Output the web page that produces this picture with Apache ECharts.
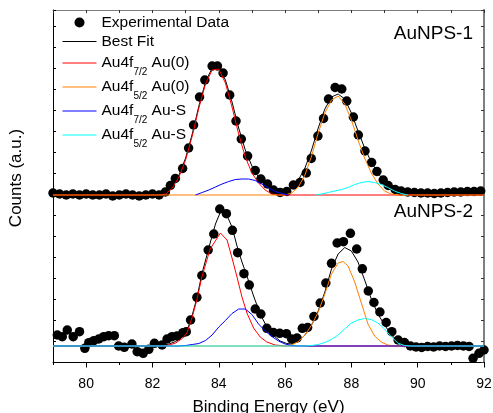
<!DOCTYPE html>
<html><head><meta charset="utf-8">
<script src="https://cdn.jsdelivr.net/npm/echarts@6/dist/echarts.min.js"></script>
<style>html,body{margin:0;padding:0;background:#fff}#c{width:493px;height:413px}</style>
</head><body><div id="c"></div>
<script>
// Binding energy axis (eV)
const energyMin = 79, energyMax = 92;
const xTickLabels = [80, 82, 84, 86, 88, 90, 92];
const countsMin = 0, countsMax = 352, countsTickStep = 21;

const legendNames = ['Experimental Data', 'Best Fit', 'Au4f7/2 Au(0)', 'Au4f5/2 Au(0)', 'Au4f7/2 Au-S', 'Au4f5/2 Au-S'];
const panelLabels = ['AuNPS-1', 'AuNPS-2'];

// ---- AuNPS-1 (upper, offset trace) ----
const topExperimental = [
[79.0,169],[79.2,168],[79.4,167],[79.6,168],[79.8,167],[80.0,168],[80.2,167],[80.4,167],[80.6,168],[80.8,166],[81.0,167],[81.2,168],[81.4,167],[81.6,166],[81.8,167],[82.0,168],[82.2,167],
[82.39,170],[82.54,176.5],[82.69,183.5],[82.91,193.5],[83.09,214],[83.24,237],[83.42,265],[83.58,282],[83.80,296],[83.96,296],[84.13,289],[84.33,267],[84.52,241],[84.68,223],[84.87,206],[85.10,191.5],[85.27,183],[85.47,178],[85.65,172],[85.85,169.5],[86.05,170.5],[86.25,177],[86.45,179.5],[86.64,189],[86.79,203.5],[86.99,226],[87.16,243.5],[87.31,263],[87.51,274.5],[87.71,273],[87.86,261],[88.06,245],[88.21,227],[88.41,211],[88.61,199.5],[88.77,190.5],[88.96,182],[89.11,176.5],[89.32,172.5],
[89.5,171],[89.7,170],[89.9,169.5],[90.1,169],[90.3,169],[90.5,168.5],[90.7,169],[90.9,169.5],[91.1,170],[91.3,170],[91.5,170.5],[91.7,170.5],[91.9,171]
];
const topBestFit = [[79,167],[82.2,167],[82.4,169],[82.6,176],[82.8,187],[83.0,204],[83.2,228],[83.4,256],[83.6,280],[83.8,294],[84.0,295],[84.2,282],[84.4,260],[84.6,234],[84.8,212],[85.0,196],[85.2,185],[85.4,178],[85.6,173],[85.8,170],[86.0,171],[86.2,175],[86.4,182],[86.6,194],[86.8,212],[87.0,234],[87.2,253],[87.4,265],[87.6,268],[87.8,263],[88.0,249],[88.2,231],[88.4,214],[88.6,200],[88.8,189],[89.0,180],[89.2,174],[89.4,170],[89.6,168],[90.0,167],[92,167]];
const topAu0_72 = [[79,167],[82.2,167],[82.4,168],[82.6,174],[82.8,185],[83.0,202],[83.2,226],[83.4,254],[83.6,278],[83.8,292],[84.0,293],[84.2,279],[84.4,255],[84.6,228],[84.8,205],[85.0,189],[85.2,179],[85.4,172],[85.6,168],[85.8,167],[92,167]];
const topAu0_52 = [[79,167],[86.0,167],[86.2,169],[86.4,175],[86.6,187],[86.8,206],[87.0,229],[87.2,249],[87.4,262],[87.6,266],[87.8,258],[88.0,242],[88.2,222],[88.4,204],[88.6,189],[88.8,178],[89.0,171],[89.2,168],[89.4,167],[92,167]];
const topAuS_72 = [[83.3,167],[83.5,169.5],[83.7,172],[83.9,175],[84.1,178],[84.3,180.5],[84.5,182.5],[84.7,183],[84.9,183],[85.1,181.5],[85.3,178],[85.5,174],[85.7,170.5],[85.9,168.5],[86.1,167]];
const topAuS_52 = [[86.9,167],[87.1,168],[87.3,169.5],[87.5,171],[87.7,172.5],[87.9,174.5],[88.1,177.5],[88.3,179.5],[88.5,180.5],[88.7,179.5],[88.9,177.5],[89.1,174.5],[89.3,171],[89.5,168.5],[89.7,167]];

// ---- AuNPS-2 (lower trace) ----
const bottomExperimental = [
[79.13,27],[79.28,25.3],[79.43,32],[79.61,25.3],[79.80,30.3],[79.96,13.7],[80.08,19.3],[80.23,21.3],[80.38,23],[80.53,25.3],[80.68,26.3],[80.85,26.3],[80.98,16],[81.15,14.7],[81.38,18],[81.54,10.3],[81.72,8.7],[81.89,12.7],[82.06,18.7],[82.29,17],[82.44,23],[82.59,25.3],[82.74,26],[82.92,29.3],[83.02,30.3],[83.15,42],[83.34,64.7],[83.49,86.5],[83.68,112],[83.85,128],[84.03,153],[84.23,148.3],[84.41,131.7],[84.57,109.3],[84.76,88.3],[84.92,77],[85.10,53],[85.27,48],[85.45,33.7],[85.65,29.5],[85.84,28.7],[86.04,28.3],[86.20,23],[86.36,24],[86.52,33.7],[86.68,34.5],[86.87,45.5],[87.06,59],[87.23,79],[87.40,98.7],[87.57,119],[87.76,120.3],[87.97,128.7],[88.16,113],[88.33,93.2],[88.51,71],[88.68,59.5],[88.86,50],[89.05,39.5],[89.22,30.3],[89.41,22],[89.60,19.5],[89.78,16],[89.95,15],[90.12,14.5],[90.30,15.5],[90.48,15],[90.66,16],[90.84,15.5],[91.02,16],[91.20,16.5],[91.38,16],[91.55,15.5],[91.67,3.7],[91.85,8.7],[92.0,12]
];
const bottomBestFit = [[79,16],[82.0,16],[82.3,16.5],[82.5,18],[82.7,20.5],[82.9,25],[83.04,31],[83.2,47],[83.34,64],[83.49,88],[83.74,119],[83.9,138],[84.05,150],[84.2,150],[84.4,135],[84.55,116],[84.7,100],[84.85,86],[85.05,66],[85.25,48],[85.45,35],[85.65,26.5],[85.85,21],[86.05,18.5],[86.2,18],[86.4,20.5],[86.6,27],[86.8,37],[87.0,51],[87.2,70],[87.4,93],[87.6,108],[87.8,114.5],[88.0,111],[88.2,100],[88.4,82],[88.6,63],[88.8,48],[89.0,37],[89.2,27.5],[89.4,20.5],[89.6,17],[89.8,16],[92,16]];
const bottomAu0_72 = [[79,16],[82.3,16],[82.5,17],[82.7,19],[82.9,23.5],[83.04,29],[83.2,45],[83.34,62],[83.49,85],[83.74,113],[84.05,129],[84.25,122],[84.4,104],[84.55,85],[84.7,65],[84.85,49],[85.05,34],[85.25,25],[85.45,20],[85.7,17],[86.0,16],[92,16]];
const bottomAu0_52 = [[79,16],[86.0,16],[86.2,17],[86.4,20.5],[86.6,27],[86.8,37],[87.0,50],[87.2,68],[87.4,88],[87.6,99],[87.75,100.5],[87.9,96],[88.1,80],[88.3,59],[88.5,38],[88.7,26],[88.9,20],[89.1,17],[89.3,16],[92,16]];
const bottomAuS_72 = [[79,16],[82.8,16],[83.0,16.5],[83.2,17.5],[83.4,18.5],[83.6,21.5],[83.8,27],[84.0,35],[84.2,41.5],[84.4,48.5],[84.6,53],[84.8,53],[85.0,47.5],[85.2,38],[85.4,31],[85.6,25.5],[85.8,21],[86.0,18],[86.2,16.5],[86.4,16],[92,16]];
const bottomAuS_52 = [[79,16],[86.6,16],[86.8,16.5],[87.0,17.5],[87.2,19.5],[87.4,22.5],[87.6,27],[87.8,33],[88.0,39],[88.2,42],[88.4,43.5],[88.6,42.5],[88.8,39],[89.0,33],[89.2,25.5],[89.4,19],[89.6,16.5],[89.8,16],[92,16]];

const FONT = '"Liberation Sans", Arial, Helvetica, sans-serif';
const colors = {fit:'#000000', au0_72:'#ff0000', au0_52:'#ff8000', aus_72:'#0000ff', aus_52:'#00ffff'};

function lineSeries(name, data, color) {
  return {name, type:'line', data, symbol:'none', showSymbol:false, smooth:false,
    lineStyle:{color, width:1, opacity:1}, itemStyle:{color}, silent:true, z:3};
}
function scatterSeries(data) {
  return {name:legendNames[0], type:'scatter', data, symbol:'circle', symbolSize:9.5,
    itemStyle:{color:'#000', opacity:1, borderWidth:0}, silent:true, z:2};
}
function legendFormatter(name) {
  const m = name.match(/^Au4f(\d\/\d) (.*)$/);
  return m ? '{n|Au4f}{s|' + m[1] + '}{n| ' + m[2] + '}' : name;
}

const chart = echarts.init(document.getElementById('c'), null, {renderer:'canvas'});
chart.setOption({
  animation:false,
  backgroundColor:'#fff',
  grid:{left:53, right:9, top:10, bottom:51, containLabel:false, outerBoundsMode:'none'},
  legend:{
    orient:'vertical', left:62, top:11, padding:0, itemGap:-4, itemWidth:34, itemHeight:10,
    selectedMode:false,
    lineStyle:{width:1},
    data:legendNames.map(n => n === legendNames[0]
      ? {name:n, icon:'circle', itemStyle:{color:'#000', opacity:1}}
      : {name:n, itemStyle:{opacity:0}, lineStyle:{width:1}}),
    formatter:legendFormatter,
    textStyle:{fontFamily:FONT, fontSize:15.5, color:'#000', lineHeight:23,
      rich:{
        n:{fontFamily:FONT, fontSize:15.5, color:'#000', lineHeight:28},
        s:{fontFamily:FONT, fontSize:10, color:'#000', verticalAlign:'bottom'}
      }}
  },
  xAxis:[
    {type:'value', position:'bottom', min:energyMin, max:energyMax, interval:1,
      name:'Binding Energy (eV)', nameLocation:'middle', nameGap:37,
      nameTextStyle:{fontFamily:FONT, fontSize:17, color:'#000'},
      axisLine:{show:true, onZero:false, lineStyle:{color:'#000', width:1}},
      axisTick:{show:true, inside:false, length:3, lineStyle:{color:'#000', width:1}},
      axisLabel:{show:true, customValues:xTickLabels, formatter:v => (v % 2 === 0 ? String(v) : ''),
        fontFamily:FONT, fontSize:14, color:'#000', margin:15},
      splitLine:{show:false}},
    {type:'value', position:'bottom', min:energyMin, max:energyMax, interval:1,
      axisLine:{show:false, onZero:false},
      axisTick:{show:true, inside:false, length:5.5, customValues:xTickLabels, lineStyle:{color:'#000', width:1}},
      axisLabel:{show:false}, splitLine:{show:false}},
    {type:'value', position:'top', min:energyMin, max:energyMax, interval:1,
      axisLine:{show:true, onZero:false, lineStyle:{color:'#7f7f7f', width:1}},
      axisTick:{show:true, inside:true, length:3, lineStyle:{color:'#333', width:1}},
      axisLabel:{show:false}, splitLine:{show:false}}
  ],
  yAxis:[
    {type:'value', position:'left', min:countsMin, max:countsMax, interval:countsTickStep,
      axisLine:{show:true, onZero:false, lineStyle:{color:'#000', width:1}},
      axisTick:{show:true, inside:true, length:3, lineStyle:{color:'#000', width:1}},
      axisLabel:{show:false}, splitLine:{show:false}},
    {type:'value', position:'right', min:countsMin, max:countsMax, interval:countsTickStep,
      axisLine:{show:true, onZero:false, lineStyle:{color:'#7f7f7f', width:2}},
      axisTick:{show:true, inside:true, length:3, lineStyle:{color:'#333', width:1}},
      axisLabel:{show:false}, splitLine:{show:false}}
  ],
  graphic:[
    {type:'text', x:16, y:178, rotation:Math.PI/2, silent:true,
      style:{text:'Counts (a.u.)', fill:'#000', font:'17px ' + FONT, textAlign:'center', textVerticalAlign:'middle', align:'center', verticalAlign:'middle'}},
    {type:'text', x:473, y:33.5, silent:true,
      style:{text:panelLabels[0], fill:'#000', font:'19px ' + FONT, textAlign:'right', textVerticalAlign:'middle', align:'right', verticalAlign:'middle'}},
    {type:'text', x:473, y:211.5, silent:true,
      style:{text:panelLabels[1], fill:'#000', font:'19px ' + FONT, textAlign:'right', textVerticalAlign:'middle', align:'right', verticalAlign:'middle'}}
  ],
  series:[
    scatterSeries(topExperimental),
    scatterSeries(bottomExperimental),
    lineSeries(legendNames[1], topBestFit, colors.fit),
    lineSeries(legendNames[1], bottomBestFit, colors.fit),
    lineSeries(legendNames[2], topAu0_72, colors.au0_72),
    lineSeries(legendNames[2], bottomAu0_72, colors.au0_72),
    lineSeries(legendNames[3], topAu0_52, colors.au0_52),
    lineSeries(legendNames[3], bottomAu0_52, colors.au0_52),
    lineSeries(legendNames[4], topAuS_72, colors.aus_72),
    lineSeries(legendNames[4], bottomAuS_72, colors.aus_72),
    lineSeries(legendNames[5], topAuS_52, colors.aus_52),
    lineSeries(legendNames[5], bottomAuS_52, colors.aus_52)
  ]
});
</script>
</body></html>
